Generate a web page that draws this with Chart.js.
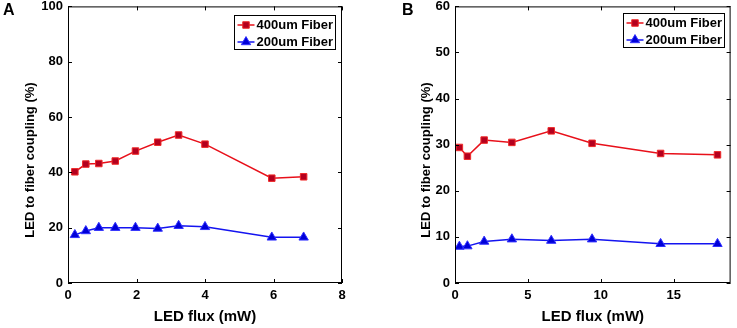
<!DOCTYPE html>
<html>
<head>
<meta charset="utf-8">
<script src="https://cdn.jsdelivr.net/npm/chart.js@4.4.1/dist/chart.umd.min.js"></script>
<style>
  html, body { margin: 0; padding: 0; background: #fff; }
  .panel { position: absolute; top: 0; height: 328px; }
  #panelA { left: 0; width: 370px; }
  #panelB { left: 370px; width: 367px; }
</style>
</head>
<body>
<div class="panel" id="panelA"><canvas id="chartA"></canvas></div>
<div class="panel" id="panelB"><canvas id="chartB"></canvas></div>
<script>
/* ---------------------------------------------------------
   Data
--------------------------------------------------------- */
const fluxA = [0.2, 0.52, 0.9, 1.38, 1.97, 2.62, 3.23, 4.0, 5.95, 6.88];
const fiber400A = [40.2, 43.0, 43.2, 44.1, 47.7, 50.9, 53.5, 50.2, 37.9, 38.4];
const fiber200A = [17.4, 18.8, 20.0, 20.0, 20.0, 19.7, 20.7, 20.3, 16.5, 16.5];

const fluxB = [0.3, 0.85, 2.0, 3.9, 6.6, 9.4, 14.1, 18.0];
const fiber400B = [29.4, 27.5, 31.0, 30.5, 33.0, 30.3, 28.1, 27.8];
const fiber200B = [7.9, 8.0, 9.0, 9.5, 9.2, 9.5, 8.5, 8.5];

const xTicksA = [0, 2, 4, 6, 8];
const yTicksA = [0, 20, 40, 60, 80, 100];
const xTicksB = [0, 5, 10, 15];
const yTicksB = [0, 10, 20, 30, 40, 50, 60];

const seriesLabels = ["400um Fiber", "200um Fiber"];
const yTitle = "LED to fiber coupling (%)";
const xTitle = "LED flux (mW)";

const FONT = "'Liberation Sans', Arial, Helvetica, sans-serif";

/* ---------------------------------------------------------
   MATLAB-like box, inward ticks, legend, y title, panel letter
--------------------------------------------------------- */
const matlabBox = {
  id: "matlabBox",
  afterDraw(chart, args, opts) {
    const { ctx, chartArea: a } = chart;
    const tl = 4;
    ctx.save();
    ctx.strokeStyle = "#000";
    ctx.lineWidth = 1;
    ctx.strokeRect(a.left + 0.5, a.top + 0.5, a.right - a.left - 1, a.bottom - a.top - 1);

    ctx.beginPath();
    chart.scales.x.ticks.forEach((t) => {
      const px = Math.round(chart.scales.x.getPixelForValue(t.value)) + 0.5;
      ctx.moveTo(px, a.bottom); ctx.lineTo(px, a.bottom - tl);
      ctx.moveTo(px, a.top); ctx.lineTo(px, a.top + tl);
    });
    chart.scales.y.ticks.forEach((t) => {
      const py = Math.round(chart.scales.y.getPixelForValue(t.value)) + 0.5;
      ctx.moveTo(a.left, py); ctx.lineTo(a.left + tl, py);
      ctx.moveTo(a.right, py); ctx.lineTo(a.right - tl, py);
    });
    ctx.stroke();

    // legend
    ctx.font = "bold 13px " + FONT;
    const textW = Math.max(...chart.data.datasets.map((d) => ctx.measureText(d.label).width));
    const boxW = Math.round(22 + textW + 2.5);
    const boxH = 34;
    const bx = Math.round(a.right - opts.legendInset - boxW) + 0.5;
    const by = Math.round(a.top + opts.legendTop) + 0.5;
    ctx.fillStyle = "#fff";
    ctx.fillRect(bx, by, boxW, boxH);
    ctx.strokeStyle = "#000";
    ctx.strokeRect(bx, by, boxW, boxH);

    chart.data.datasets.forEach((d, i) => {
      const ry = by + 9.5 + i * 17;
      ctx.strokeStyle = d.borderColor;
      ctx.lineWidth = 1.5;
      ctx.beginPath();
      ctx.moveTo(bx + 3, ry); ctx.lineTo(bx + 20, ry);
      ctx.stroke();
      ctx.fillStyle = d.pointBackgroundColor;
      ctx.strokeStyle = d.pointBorderColor;
      ctx.lineWidth = 1;
      Chart.helpers.drawPoint(ctx, { pointStyle: d.pointStyle, radius: d.pointRadius, rotation: 0, borderWidth: 1 }, bx + 11.5, ry);
      ctx.fillStyle = "#000";
      ctx.textBaseline = "middle";
      ctx.textAlign = "left";
      ctx.fillText(d.label, bx + 22, ry + 0.5);
    });

    // y axis title (sits a little below the axis centre, as in the figure)
    ctx.save();
    ctx.translate(opts.yTitleX, 160);
    ctx.rotate(-Math.PI / 2);
    ctx.font = "bold 13px " + FONT;
    ctx.fillStyle = "#000";
    ctx.textAlign = "center";
    ctx.textBaseline = "middle";
    ctx.fillText(yTitle, 0, 0);
    ctx.restore();

    // panel letter
    ctx.font = "bold 16px " + FONT;
    ctx.fillStyle = "#000";
    ctx.textAlign = "left";
    ctx.textBaseline = "middle";
    ctx.fillText(opts.letter, opts.letterX, 11);
    ctx.restore();
  },
};

function keepTicks(list) {
  return (scale) => {
    scale.ticks = list.map((v) => ({ value: v }));
  };
}

function makeChart(id, cfg) {
  const tickFont = { family: FONT, size: 13, weight: "bold" };
  const titleFont = { family: FONT, size: 15, weight: "bold" };

  return new Chart(document.getElementById(id).getContext("2d"), {
    type: "line",
    data: {
      datasets: [
        {
          label: seriesLabels[0],
          data: cfg.x.map((x, i) => ({ x, y: cfg.red[i] })),
          borderColor: "#e8101a",
          borderWidth: 1.5,
          pointStyle: "rect",
          pointRadius: 4.6,
          pointBackgroundColor: "#b4001e",
          pointBorderColor: "#f02a2a",
          pointBorderWidth: 1,
          tension: 0,
        },
        {
          label: seriesLabels[1],
          data: cfg.x.map((x, i) => ({ x, y: cfg.blue[i] })),
          borderColor: "#1414f0",
          borderWidth: 1.5,
          pointStyle: "triangle",
          pointRadius: 5.4,
          pointBackgroundColor: "#0000d8",
          pointBorderColor: "#3030ff",
          pointBorderWidth: 1,
          tension: 0,
        },
      ],
    },
    options: {
      responsive: true,
      maintainAspectRatio: false,
      animation: false,
      layout: { padding: { top: 6, right: cfg.padRight, left: 0, bottom: 0 } },
      plugins: {
        legend: { display: false },
        tooltip: { enabled: false },
        matlabBox: { letter: cfg.letter, letterX: cfg.letterX, legendInset: 7, legendTop: cfg.legendTop, yTitleX: cfg.yTitleX },
      },
      scales: {
        x: {
          type: "linear",
          min: 0,
          max: cfg.xMax,
          afterBuildTicks: keepTicks(cfg.xTicks),
          afterFit: (s) => { s.height = 45; s.paddingLeft = 0; s.paddingRight = 0; },
          grid: { display: false, drawTicks: false },
          border: { display: false },
          ticks: { color: "#000", font: tickFont, padding: 5, maxRotation: 0 },
          title: { display: true, text: xTitle, color: "#000", font: titleFont, padding: { top: 0, bottom: 2.5 } },
        },
        y: {
          min: 0,
          max: cfg.yMax,
          afterBuildTicks: keepTicks(cfg.yTicks),
          afterFit: (s) => { s.width = cfg.yWidth; s.paddingTop = 0; s.paddingBottom = 0; },
          grid: { display: false, drawTicks: false },
          border: { display: false },
          ticks: { color: "#000", font: tickFont, padding: 5 },
        },
      },
    },
    plugins: [matlabBox],
  });
}

makeChart("chartA", {
  x: fluxA, red: fiber400A, blue: fiber200A,
  xMax: 8, yMax: 100, xTicks: xTicksA, yTicks: yTicksA,
  yWidth: 68, padRight: 28, yTitleX: 30, letter: "A", letterX: 3, legendTop: 9,
});

makeChart("chartB", {
  x: fluxB, red: fiber400B, blue: fiber200B,
  xMax: 18.9, yMax: 60, xTicks: xTicksB, yTicks: yTicksB,
  yWidth: 85, padRight: 4, yTitleX: 56, letter: "B", letterX: 32, legendTop: 7,
});
</script>
</body>
</html>
